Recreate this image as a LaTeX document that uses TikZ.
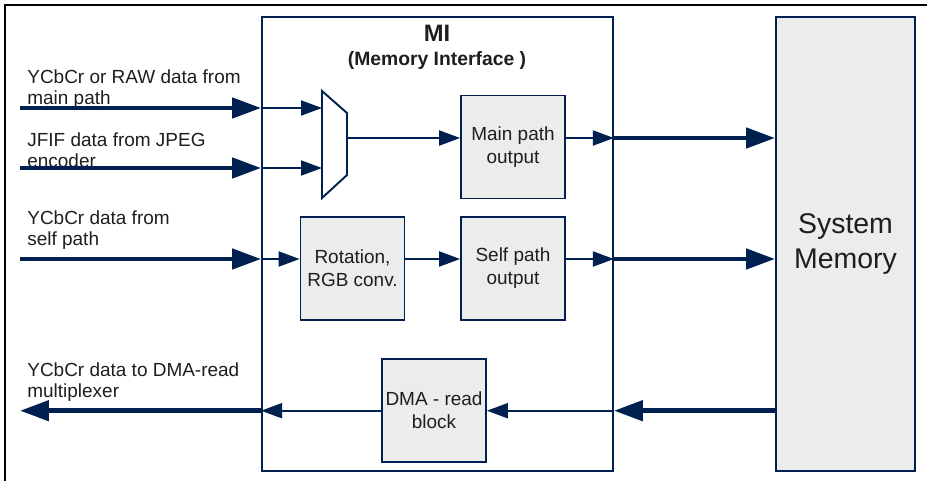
\documentclass[tikz,border=0pt]{standalone}
\usepackage{fontspec}
\setmainfont{Liberation Sans}
\usetikzlibrary{arrows.meta}
\definecolor{navy}{RGB}{0,33,80}
\definecolor{boxgray}{RGB}{235,236,236}
\definecolor{txt}{RGB}{30,30,30}
\begin{document}
\begin{tikzpicture}[x=0.02cm, y=-0.02cm,
  blk/.style={draw=navy, fill=boxgray, line width=1pt, minimum width=2.08cm, minimum height=2.06cm,
    inner sep=0pt, align=center, text=txt, font=\fontsize{10.8}{13}\selectfont},
  frame/.style={draw=navy, line width=1.1pt, inner sep=0pt},
  wire/.style={draw=navy, line width=1.1pt, -{Triangle[length=0.42cm, width=0.3cm]}},
  bus/.style={draw=navy, line width=2.7pt, -{Triangle[length=0.58cm, width=0.4cm]}},
  lbl/.style={anchor=west, align=left, inner sep=0pt, text=txt, font=\fontsize{10.8}{12}\selectfont}]
\useasboundingbox (0,0) rectangle (927,481);
\draw[line width=0.8pt] (5,481) -- (5,5) -- (927,5);
\node[frame, minimum width=7.02cm, minimum height=9.08cm] (mi) at (437.5,244) {};
\node[frame, fill=boxgray, minimum width=2.78cm, minimum height=9.08cm, align=center, text=txt,
  font=\fontsize{16.2}{19.8}\selectfont] (mem) at (845.5,244) {System\\Memory};
\node[text=txt, font=\fontsize{13.5}{15}\selectfont\bfseries] (mititle) at (437,33) {MI};
\node[text=txt, font=\fontsize{11}{13}\selectfont\bfseries] (misub) at (437,60) {(Memory Interface )};
\draw[frame] (322,91) -- (347,113) -- (347,175) -- (322,198) -- cycle;
\coordinate (mux1) at (322,108);
\coordinate (mux2) at (322,168);
\coordinate (muxo) at (347,138);
\node[blk] (mainout) at (513,147)   {Main path\\output};
\node[blk] (rot)     at (352.5,268.5) {Rotation,\\RGB conv.};
\node[blk] (selfout) at (513,268.5) {Self path\\output};
\node[blk] (dma)     at (434,410.5) {DMA - read\\block};
\coordinate (in1) at (20,108);
\coordinate (in2) at (20,168);
\coordinate (in3) at (20,259);
\coordinate (out4) at (20,410.7);
\node[lbl] (lbl1) at (27,89)    {YCbCr or RAW data from\\main path};
\node[lbl] (lbl2) at (27,150)   {JFIF data from JPEG\\encoder};
\node[lbl] (lbl3) at (27,230) {YCbCr data from\\self path};
\node[lbl] (lbl4) at (27,382)   {YCbCr data to DMA-read\\multiplexer};
\draw[bus] (in1) -- (in1 -| mi.west);
\draw[wire] (in1 -| mi.west) -- (mux1);
\draw[bus] (in2) -- (in2 -| mi.west);
\draw[wire] (in2 -| mi.west) -- (mux2);
\draw[wire] (muxo) -- (muxo -| mainout.west);
\draw[wire] (muxo -| mainout.east) -- (muxo -| mi.east);
\draw[bus] (muxo -| mi.east) -- (muxo -| mem.west);
\draw[bus] (in3) -- (in3 -| mi.west);
\draw[wire] (in3 -| mi.west) -- (in3 -| rot.west);
\draw[wire] (in3 -| rot.east) -- (in3 -| selfout.west);
\draw[wire] (in3 -| selfout.east) -- (in3 -| mi.east);
\draw[bus] (in3 -| mi.east) -- (in3 -| mem.west);
\draw[bus] (mem.west |- out4) -- (mi.east |- out4);
\draw[wire] (mi.east |- out4) -- (dma.east |- out4);
\draw[wire] (dma.west |- out4) -- (mi.west |- out4);
\draw[bus] (mi.west |- out4) -- (out4);
\end{tikzpicture}
\end{document}
